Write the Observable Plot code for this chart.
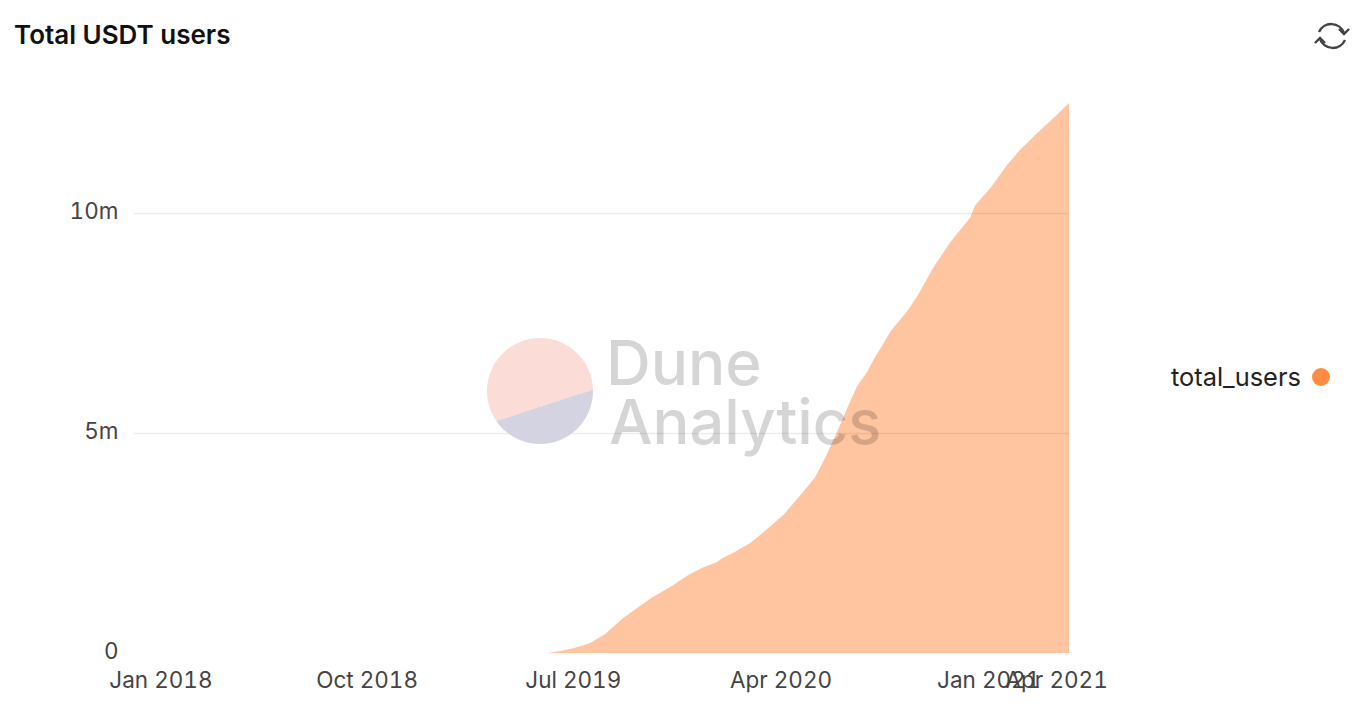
<!DOCTYPE html>
<html>
<head>
<meta charset="utf-8">
<script src="https://cdn.jsdelivr.net/npm/d3@7"></script>
<script src="https://cdn.jsdelivr.net/npm/@observablehq/plot@0.6"></script>
<style>
html,body{margin:0;padding:0;background:#fff;width:1354px;height:728px;overflow:hidden;font-family:Inter,"Noto Sans",sans-serif}
#wrap{position:relative;width:1354px;height:728px}
#title{position:absolute;left:14px;top:18px;font-size:26px;font-weight:600;color:#111;line-height:34px;white-space:nowrap}
#legend{position:absolute;left:1171px;top:361px;height:32px;line-height:32px;font-size:25.4px;color:#222;white-space:nowrap}
#dot{position:absolute;left:1312px;top:368px;width:18px;height:18px;border-radius:50%;background:#ff8c42}
#logo{position:absolute;left:487px;top:338px;width:106px;height:106px;border-radius:50%;background:linear-gradient(162deg,#fcdcd6 82px,#d3d3e2 82px)}
.wm{position:absolute;font-weight:500;color:#000;opacity:.16;white-space:nowrap}
#icon{position:absolute;left:1312px;top:16px}
</style>
</head>
<body>
<div id="wrap">
<div id="chart"></div>
<div id="logo"></div>
<div class="wm" style="left:606px;top:331px;font-size:62px;line-height:63px">Dune</div>
<div class="wm" style="left:609px;top:391px;font-size:61.4px;line-height:63px">Analytics</div>
<div id="title">Total USDT users</div>
<svg id="icon" width="40" height="40" viewBox="0 0 40 40" fill="none" stroke="#444" stroke-width="2.4">
<path d="M7 16A13.5 13.5 0 0 1 32 17"/><path d="M27 13l5 5 5-5"/>
<path d="M33 24A13.5 13.5 0 0 1 8 23"/><path d="M3 27l5-5 5 5"/>
</svg>
<div id="legend">total_users</div>
<div id="dot"></div>
</div>
<script>
const dates = ["2017-11-27","2019-05-28","2019-06-14","2019-07-02","2019-07-24","2019-08-13","2019-09-04","2019-09-24","2019-10-15","2019-11-07","2019-12-01","2019-12-21","2020-01-08","2020-01-15","2020-01-29","2020-02-21","2020-03-09","2020-03-22","2020-04-05","2020-04-30","2020-05-17","2020-05-30","2020-06-10","2020-06-16","2020-06-28","2020-07-11","2020-07-25","2020-08-04","2020-08-15","2020-08-25","2020-09-16","2020-09-29","2020-10-11","2020-10-20","2020-11-12","2020-12-08","2020-12-15","2021-01-04","2021-01-26","2021-02-12","2021-03-07","2021-04-02","2021-04-18"];
const totalUsers = [0,0,0.045,0.11,0.23,0.43,0.77,1.02,1.27,1.50,1.77,1.95,2.07,2.16,2.27,2.50,2.74,2.93,3.14,3.64,4.0,4.43,4.84,5.07,5.55,6.05,6.4,6.72,7.03,7.32,7.77,8.11,8.47,8.75,9.34,9.89,10.18,10.57,11.09,11.43,11.82,12.23,12.5];
const xTicks = ["2018-01-01","2018-10-01","2019-07-01","2020-04-01","2021-01-01","2021-04-01"];
const yTicks = [0,5,10];
const gridTicks = [5,10];
const rows = dates.map((d,i)=>({date:new Date(d),users:totalUsers[i]}));
const chart = Plot.plot({
  width:1354,height:728,
  marginLeft:134,marginRight:285,marginTop:60,marginBottom:75,
  style:{fontFamily:'Inter,"Noto Sans",sans-serif',fontSize:"22.5px",color:"#444",background:"#fff"},
  x:{type:"utc",domain:[new Date("2017-11-27"),new Date("2021-04-18")]},
  y:{domain:[0,13.477]},
  marks:[
    Plot.areaY(rows,{x:"date",y:"users",fill:"#ff8c42",fillOpacity:0.5,curve:"linear"}),
    Plot.gridY(gridTicks,{stroke:"#000",strokeOpacity:0.07,strokeWidth:1.5}),
    Plot.axisX(xTicks.map(d=>new Date(d)),{tickSize:0,tickPadding:19,tickFormat:d3.utcFormat("%b %Y"),label:null}),
    Plot.axisY(yTicks,{tickSize:0,tickPadding:16,dy:-2,tickFormat:d=>d===0?"0":d+"m",label:null})
  ]
});
document.getElementById("chart").appendChild(chart);
</script>
</body>
</html>
